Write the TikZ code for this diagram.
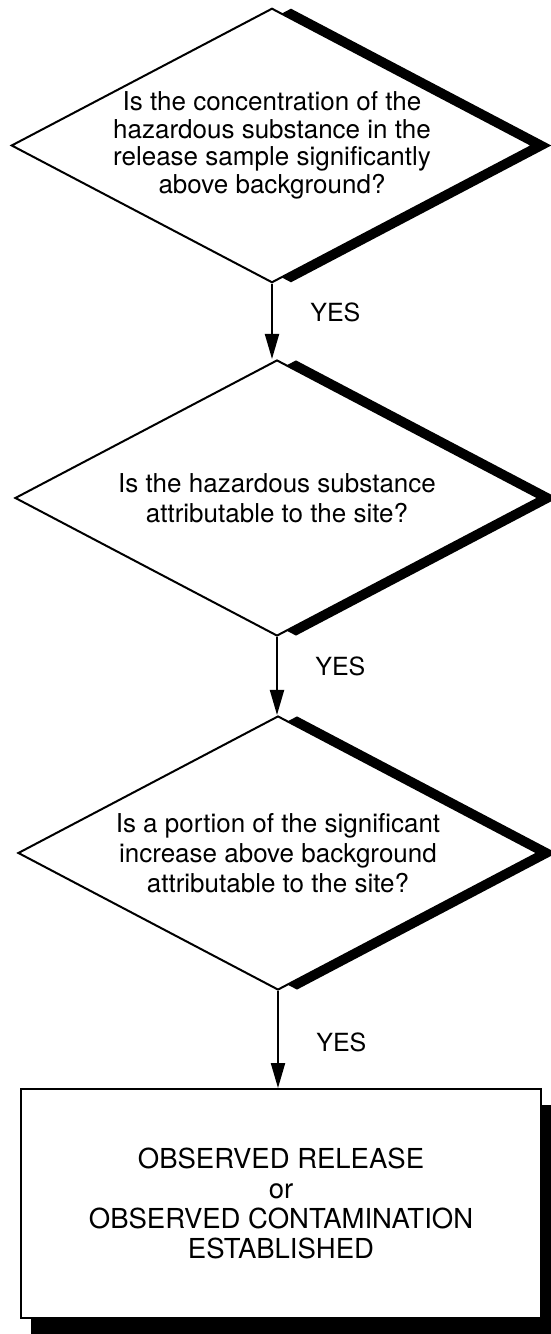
\documentclass[tikz,border=0pt]{standalone}
\usepackage{fontspec}
\setmainfont{TeX Gyre Heros}
\usetikzlibrary{shapes.geometric,shadows,arrows.meta}

\begin{document}
\begin{tikzpicture}
  [x=1pt,y=1pt,
   question/.style={diamond,aspect=1.9,draw,fill=white,line width=2pt,inner sep=0pt,align=center,
     font=\fontsize{26}{30}\selectfont,
     drop shadow={shadow xshift=19pt,shadow yshift=0pt,fill=black,opacity=1}},
   result/.style={rectangle,draw,fill=white,line width=1.8pt,align=center,
     minimum width=520pt,minimum height=229pt,font=\fontsize{27.5}{30}\selectfont,
     drop shadow={shadow xshift=10pt,shadow yshift=-16pt,fill=black,opacity=1}},
   yes/.style={anchor=west,xshift=34pt,font=\fontsize{25}{25}\selectfont},
   flow/.style={line width=2pt,-{Triangle[length=25pt,width=14pt]}}]
  \useasboundingbox (0,0) rectangle (551,1334);

  \node[question,font=\fontsize{26}{27.5}\selectfont,minimum width=520pt,minimum height=273pt] (q1) at (272,1188.5)
    {Is the concentration of the\\hazardous substance in the\\release sample significantly\\above background?};
  \node[question,minimum width=524pt,minimum height=276pt] (q2) at (277,836)
    {Is the hazardous substance\\attributable to the site?};
  \node[question,minimum width=520pt,minimum height=274pt] (q3) at (278,481)
    {Is a portion of the significant\\increase above background\\attributable to the site?};
  \node[result] (res) at (281,130.5)
    {OBSERVED RELEASE\\or\\OBSERVED CONTAMINATION\\ESTABLISHED};

  \draw[flow] (q1.south) -- node[yes,pos=.38] (yes1) {YES} (q1.south |- q2.north);
  \draw[flow] (q2.south) -- node[yes,pos=.38] (yes2) {YES} (q2.south |- q3.north);
  \draw[flow] (q3.south) -- node[yes,pos=.53] (yes3) {YES} (q3.south |- res.north);
\end{tikzpicture}
\end{document}
